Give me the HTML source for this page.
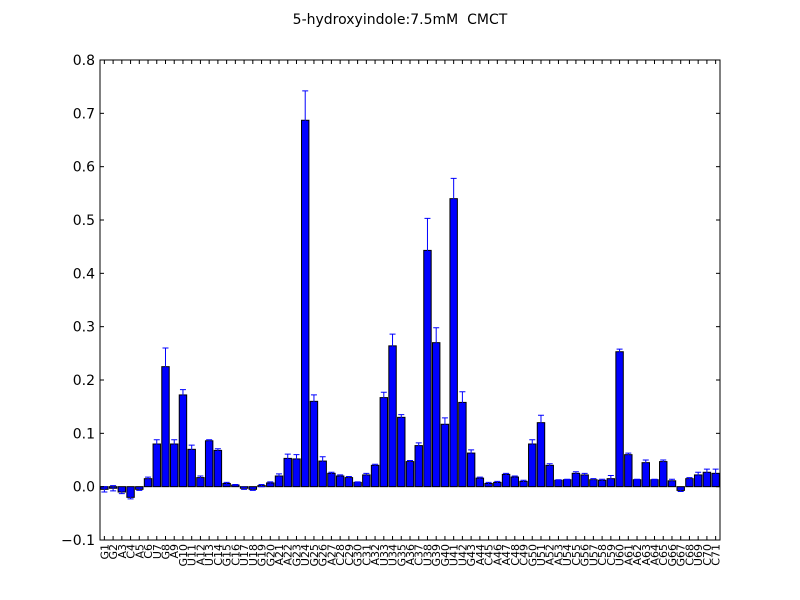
<!DOCTYPE html>
<html><head><meta charset="utf-8"><style>
body{margin:0;background:#fff;}
svg{display:block;font-family:"DejaVu Sans","Liberation Sans",sans-serif;}
</style></head><body>
<svg id="chart" width="800" height="600">
<rect width="800" height="600" fill="#fff"/>
<text x="400" y="24" text-anchor="middle" font-size="14" style="white-space:pre">5-hydroxyindole:7.5mM  CMCT</text>
<g id="bars"></g>
<g id="axes"></g>
</svg>
<script>
const categories=["G1","G2","A3","C4","A5","C6","U7","G8","A9","G10","U11","A12","U13","C14","G15","C16","U17","U18","G19","G20","A21","A22","G23","U24","G25","G26","A27","C28","C29","G30","C31","A32","U33","U34","G35","A36","C37","U38","G39","G40","U41","U42","G43","A44","C45","A46","A47","C48","C49","G50","U51","A52","A53","U54","C55","G56","U57","C58","C59","U60","A61","A62","A63","A64","C65","G66","G67","C68","U69","C70","C71"];
const values=[-0.005,-0.003,-0.01,-0.02,-0.005,0.015,0.08,0.225,0.08,0.172,0.07,0.017,0.086,0.068,0.006,0.003,-0.003,-0.005,0.002,0.007,0.02,0.053,0.052,0.687,0.16,0.048,0.025,0.02,0.017,0.008,0.022,0.04,0.167,0.264,0.13,0.047,0.077,0.443,0.27,0.117,0.54,0.158,0.063,0.016,0.006,0.008,0.023,0.018,0.01,0.08,0.12,0.04,0.012,0.013,0.025,0.022,0.013,0.012,0.015,0.253,0.06,0.013,0.045,0.013,0.047,0.011,-0.007,0.015,0.022,0.027,0.025];
const errors=[0.005,0.005,0.003,0.003,0.002,0.003,0.008,0.035,0.008,0.01,0.008,0.003,0.002,0.003,0.002,0.001,0.002,0.002,0.002,0.002,0.004,0.008,0.008,0.055,0.012,0.008,0.002,0.002,0.002,0.001,0.003,0.002,0.01,0.022,0.005,0.002,0.005,0.06,0.028,0.012,0.038,0.02,0.006,0.002,0.002,0.002,0.002,0.002,0.002,0.008,0.014,0.003,0.001,0.001,0.003,0.003,0.002,0.002,0.006,0.005,0.003,0.001,0.005,0.001,0.003,0.003,0.002,0.002,0.005,0.006,0.008];
const yTicks=[-0.1,0,0.1,0.2,0.3,0.4,0.5,0.6,0.7,0.8];
const yTickLabels=["\u22120.1","0.0","0.1","0.2","0.3","0.4","0.5","0.6","0.7","0.8"];
const NS="http://www.w3.org/2000/svg";
const L=100,R=720,T=60,B=540,yMin=-0.1,yMax=0.8;
const slot=(R-L)/categories.length;
const y=v=>B-(v-yMin)/(yMax-yMin)*(B-T);
const xc=i=>L+slot*(i+0.5);
function mk(tag,attrs,parent){const e=document.createElementNS(NS,tag);for(const k in attrs)e.setAttribute(k,attrs[k]);parent.appendChild(e);return e;}
const gb=document.getElementById('bars'),ga=document.getElementById('axes');
const bw=slot*0.85;
values.forEach((v,i)=>{
  const y0=y(0),y1=y(v);
  const r=mk('rect',{x:xc(i)-bw/2,y:Math.min(y0,y1),width:bw,height:Math.abs(y1-y0),fill:'#0000ff',stroke:'#000','stroke-width':1},gb);
  
  
  const e=errors[i],top=y(v+e),bot=y(v-e);
  const eb=mk('path',{d:`M${xc(i)},${top}V${bot}M${xc(i)-3},${top}H${xc(i)+3}M${xc(i)-3},${bot}H${xc(i)+3}`,stroke:'#0000ff','stroke-width':1,fill:'none'},gb);
  
  
  mk('line',{x1:xc(i),x2:xc(i),y1:B,y2:B-4,stroke:'#000'},ga);
  mk('line',{x1:xc(i),x2:xc(i),y1:T,y2:T+4,stroke:'#000'},ga);
  const t=mk('text',{x:0,y:0,transform:`translate(${xc(i)+4},${B+4}) rotate(-90)`,'text-anchor':'end','font-size':11},ga);
  t.textContent=categories[i];
  
  
});
yTicks.forEach((v,i)=>{
  mk('line',{x1:L,x2:L+4,y1:y(v),y2:y(v),stroke:'#000'},ga);
  mk('line',{x1:R,x2:R-4,y1:y(v),y2:y(v),stroke:'#000'},ga);
  const t=mk('text',{x:L-5,y:y(v)+5,'text-anchor':'end','font-size':14},ga);
  t.textContent=yTickLabels[i];
  
  
});
const fr=mk('rect',{x:L,y:T,width:R-L,height:B-T,fill:'none',stroke:'#000','stroke-width':1},ga);


</script>
</body></html>
